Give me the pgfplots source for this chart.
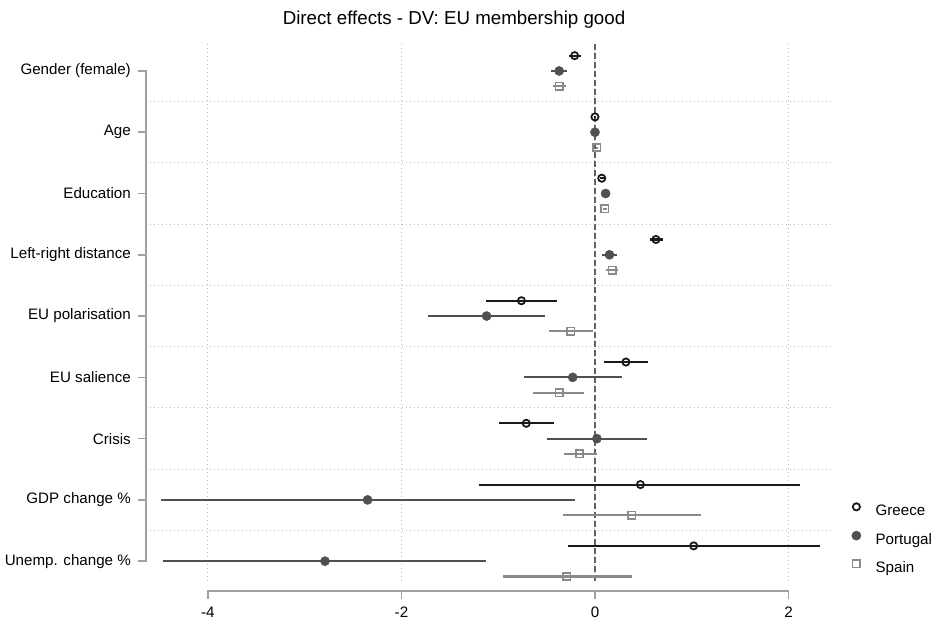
\documentclass[border=0pt]{standalone}
\usepackage{pgfplots}
\pgfplotsset{compat=1.18}
\usepackage{pgfplotstable}
\usepackage{fontspec}
\setmainfont{Liberation Sans}

\definecolor{cGR}{HTML}{1A1A1A}
\definecolor{cPT}{HTML}{505050}
\definecolor{cES}{HTML}{8A8A8A}
\definecolor{axisgray}{HTML}{A0A0A0}
\definecolor{gridgray}{HTML}{B8B8B8}
\definecolor{zerogray}{HTML}{606060}

\pgfplotstableread{
y x lo hi
-0.25 -0.21 -0.27 -0.14
0.75 0.00 -0.015 0.015
1.75 0.07 0.05 0.09
2.75 0.63 0.57 0.70
3.75 -0.76 -1.13 -0.39
4.75 0.32 0.09 0.55
5.75 -0.71 -0.99 -0.42
6.75 0.47 -1.20 2.12
7.75 1.02 -0.28 2.33
}\greece

\pgfplotstableread{
y x lo hi
0 -0.37 -0.45 -0.29
1 0.00 -0.01 0.01
2 0.11 0.09 0.13
3 0.15 0.07 0.23
4 -1.12 -1.73 -0.52
5 -0.23 -0.73 0.28
6 0.02 -0.50 0.54
7 -2.35 -4.49 -0.21
8 -2.79 -4.46 -1.13
}\portugal

\pgfplotstableread{
y x lo hi
0.25 -0.37 -0.43 -0.30
1.25 0.02 0.01 0.03
2.25 0.10 0.08 0.12
3.25 0.18 0.11 0.24
4.25 -0.25 -0.48 -0.02
5.25 -0.37 -0.64 -0.11
6.25 -0.16 -0.32 0.02
7.25 0.38 -0.33 1.10
8.25 -0.29 -0.95 0.38
}\spain

\begin{document}
\begin{tikzpicture}
\useasboundingbox (0,0) rectangle (937bp,627bp);
\node[font=\fontsize{18.8}{22}\selectfont, anchor=base] at (454bp,602bp) {Direct effects - DV: EU membership good};
\begin{axis}[
 at={(146bp,45bp)}, anchor=south west,
 scale only axis, width=687bp, height=538bp,
 xmin=-4.64, xmax=2.46, ymin=-0.44, ymax=8.34, y dir=reverse,
 axis line style={draw=none},
 major tick length=0pt, minor tick length=0pt,
 tick style={draw=none},
 xtick={-4,-2,0,2}, xticklabels={-4,-2,0,2},
 ytick={0,1,2,3,4,5,6,7,8},
 yticklabels={Gender (female),Age,Education,Left-right distance,EU polarisation,EU salience,Crisis,GDP change \%,Unemp. change \%},
 minor ytick={0.5,1.5,2.5,3.5,4.5,5.5,6.5,7.5},
 xmajorgrids, yminorgrids,
 major grid style={gridgray, line width=1bp, dash pattern=on 1bp off 3bp},
 minor grid style={gridgray, line width=1bp, dash pattern=on 1bp off 3bp},
 tick label style={font=\fontsize{15.2}{18}\selectfont},
 yticklabel style={anchor=east, inner sep=0pt, xshift=-15bp},
 xticklabel style={anchor=north, inner sep=0pt, yshift=-25bp},
 clip=false,
 legend style={at={(axis description cs:1.0211,0.078)}, anchor=west, draw=none, fill=none, inner sep=0pt,
   font=\fontsize{15.2}{18}\selectfont, row sep=11bp,
   nodes={inner sep=1bp, text height=11bp, text depth=3.5bp, anchor=west}},
 legend cell align=left,
 legend image code/.code={\path (0bp,0bp) (26.5bp,0bp); \draw[#1, /tikz/only marks] plot coordinates {(8.5bp,5bp)};},
]
% zero reference line
\addplot[zerogray, line width=1.8bp, dash pattern=on 6bp off 3bp, forget plot] coordinates {(0,-0.44) (0,8.34)};

% confidence intervals
\addplot[draw=none, mark=none, forget plot, error bars/.cd, x dir=both, x explicit, error mark=none,
  error bar style={draw=cGR, line width=2.1bp, solid}]
  table[x=x, y=y, x error plus expr=\thisrow{hi}-\thisrow{x}, x error minus expr=\thisrow{x}-\thisrow{lo}] {\greece};
\addplot[draw=none, mark=none, forget plot, error bars/.cd, x dir=both, x explicit, error mark=none,
  error bar style={draw=cPT, line width=2.1bp, solid}]
  table[x=x, y=y, x error plus expr=\thisrow{hi}-\thisrow{x}, x error minus expr=\thisrow{x}-\thisrow{lo}] {\portugal};
\addplot[draw=none, mark=none, forget plot, error bars/.cd, x dir=both, x explicit, error mark=none,
  error bar style={draw=cES, line width=2.1bp, solid}]
  table[x=x, y=y, x error plus expr=\thisrow{hi}-\thisrow{x}, x error minus expr=\thisrow{x}-\thisrow{lo}] {\spain};

% point estimates
\addplot[only marks, mark=o, mark size=3.6bp, mark options={draw=cGR, line width=1.8bp, solid}] table[x=x, y=y] {\greece};
\addlegendentry{Greece}
\addplot[only marks, mark=*, mark size=4.6bp, mark options={draw=cPT, fill=cPT, solid}] table[x=x, y=y] {\portugal};
\addlegendentry{Portugal}
\addplot[only marks, mark=square, mark size=3.7bp, mark options={draw=cES, line width=1.6bp, solid}] table[x=x, y=y] {\spain};
\addlegendentry{Spain}

% y axis line with ticks
\draw[axisgray, line width=1.5bp] ([xshift=-8bp]axis cs:-4.64,0) -- (axis cs:-4.64,0) -- (axis cs:-4.64,8) -- ([xshift=-8bp]axis cs:-4.64,8);
\pgfplotsinvokeforeach{1,2,3,4,5,6,7}{\draw[axisgray, line width=1.5bp] ([xshift=-8bp]axis cs:-4.64,#1) -- (axis cs:-4.64,#1);}
% x axis line with ticks
\draw[axisgray, line width=1.5bp] ([yshift=-17bp]axis cs:-4,8.34) -- ([yshift=-9bp]axis cs:-4,8.34) -- ([yshift=-9bp]axis cs:2,8.34) -- ([yshift=-17bp]axis cs:2,8.34);
\pgfplotsinvokeforeach{-2,0}{\draw[axisgray, line width=1.5bp] ([yshift=-17bp]axis cs:#1,8.34) -- ([yshift=-9bp]axis cs:#1,8.34);}
\end{axis}
\end{tikzpicture}
\end{document}
